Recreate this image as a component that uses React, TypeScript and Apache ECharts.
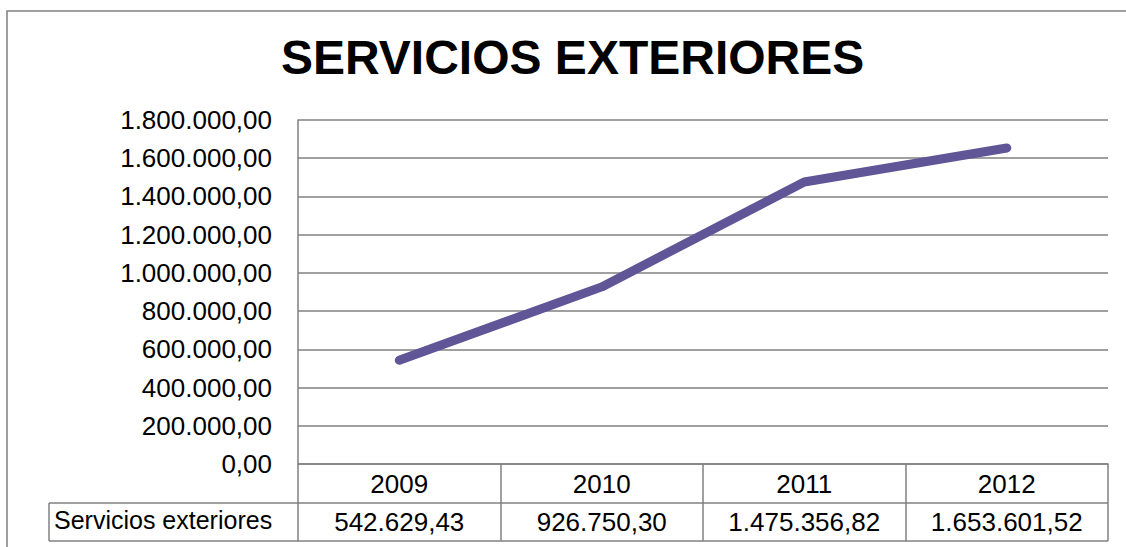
import React, { useEffect, useRef } from "react";
import * as echarts from "echarts";

const title = "SERVICIOS EXTERIORES";
const seriesName = "Servicios exteriores";
const years = ["2009", "2010", "2011", "2012"];
const values = [542629.43, 926750.3, 1475356.82, 1653601.52];
const yTicks = { min: 0, max: 1800000, interval: 200000 };

function fmt(v: number): string {
  const [i, d] = v.toFixed(2).split(".");
  return i.replace(/\B(?=(\d{3})+(?!\d))/g, ".") + "," + d;
}

const FONT = "'Liberation Sans', Arial, sans-serif";
const GRID = { left: 298, right: 1108, top: 120, bottom: 464 };
const ROW1 = 503;
const ROW2 = 541;
const TABLE_LEFT = 49;
const LINE_COLOR = "#808080";

export default function App() {
  const ref = useRef<HTMLDivElement>(null);
  useEffect(() => {
    document.body.style.margin = "0";
    const chart = echarts.init(ref.current!, null, { renderer: "svg" });
    const colW = (GRID.right - GRID.left) / years.length;
    const lines: any[] = [];
    const seg = (x1: number, y1: number, x2: number, y2: number) =>
      lines.push({
        type: "line",
        shape: { x1, y1, x2, y2 },
        style: { stroke: LINE_COLOR, lineWidth: 1.5 },
        silent: true,
      });
    seg(TABLE_LEFT, ROW1, GRID.right, ROW1);
    seg(TABLE_LEFT, ROW2, GRID.right, ROW2);
    seg(TABLE_LEFT, ROW1, TABLE_LEFT, ROW2);
    for (let i = 0; i <= years.length; i++) {
      const x = Math.round(GRID.left + colW * i);
      seg(x, GRID.bottom, x, ROW2);
    }
    chart.setOption({
      animation: false,
      title: {
        text: title,
        left: 281,
        top: 33,
        padding: 0,
        textStyle: { fontFamily: FONT, fontSize: 48, fontWeight: "bold", color: "#000" },
      },
      grid: {
        left: GRID.left,
        right: 1126 - GRID.right,
        top: GRID.top,
        bottom: 547 - GRID.bottom,
      },
      xAxis: [
        {
          type: "category",
          data: years,
          boundaryGap: true,
          axisLine: { lineStyle: { color: LINE_COLOR, width: 1.5 } },
          axisTick: { show: false },
          axisLabel: { fontFamily: FONT, fontSize: 26, color: "#000", margin: 7 },
        },
        {
          type: "category",
          data: values.map(fmt),
          position: "bottom",
          offset: ROW1 - GRID.bottom,
          boundaryGap: true,
          axisLine: { show: false },
          axisTick: { show: false },
          axisLabel: { fontFamily: FONT, fontSize: 26, color: "#000", margin: 6 },
        },
      ],
      yAxis: {
        type: "value",
        min: yTicks.min,
        max: yTicks.max,
        interval: yTicks.interval,
        axisLine: { show: true, lineStyle: { color: LINE_COLOR, width: 1.5 } },
        axisTick: { show: false },
        splitLine: { lineStyle: { color: LINE_COLOR, width: 1.5 } },
        axisLabel: {
          fontFamily: FONT,
          fontSize: 26,
          color: "#000",
          margin: 26,
          formatter: (v: number) => fmt(v),
        },
      },
      series: [
        {
          name: seriesName,
          type: "line",
          data: values,
          xAxisIndex: 0,
          symbol: "none",
          lineStyle: { color: "#5F5597", width: 9, cap: "round", join: "round" },
        },
      ],
      graphic: [
        {
          type: "rect",
          shape: { x: 7, y: 11, width: 1200, height: 600 },
          style: { fill: "none", stroke: LINE_COLOR, lineWidth: 1.5 },
          silent: true,
          z: -1,
        },
        ...lines,
        {
          type: "text",
          left: TABLE_LEFT + 5,
          top: (ROW1 + ROW2) / 2 - 15,
          style: { text: seriesName, fontFamily: FONT, fontSize: 25, fill: "#000" },
        },
      ],
    });
    return () => chart.dispose();
  }, []);
  return (
    <div
      ref={ref}
      style={{ position: "absolute", left: 0, top: 0, width: 1126, height: 547, background: "#fff" }}
    />
  );
}
